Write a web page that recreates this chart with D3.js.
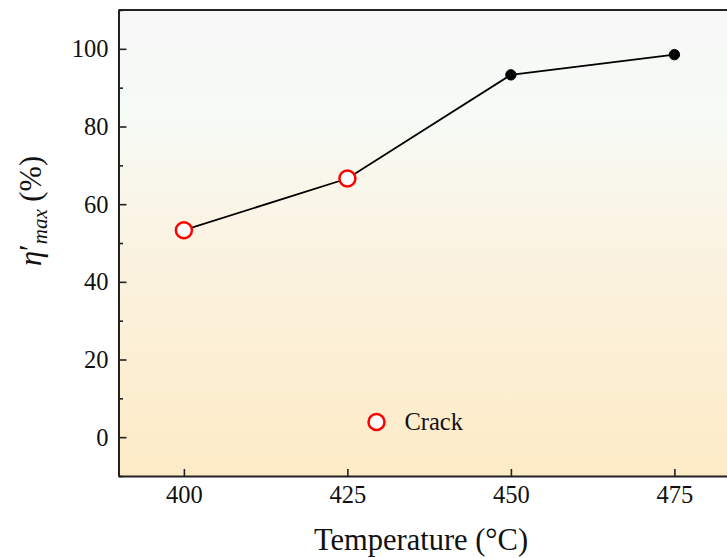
<!DOCTYPE html>
<html>
<head>
<meta charset="utf-8">
<script src="https://cdn.jsdelivr.net/npm/d3@7"></script>
<style>
  html, body { margin: 0; padding: 0; background: #fff; }
  svg { display: block; }
  text { font-family: "Liberation Serif", "Times New Roman", serif; fill: #111; }
</style>
</head>
<body>
<svg id="chart" width="727" height="558"></svg>
<script>
// Annealing temperature (°C)
const temperatures = [400, 425, 450, 475];
// Maximum efficiency η'max (%)
const etaMax = [53.3, 66.6, 93.3, 98.5];
// Whether the sample cracked at that temperature
const cracked = [true, true, false, false];

const yTicks = [0, 20, 40, 60, 80, 100];
const yMinorTicks = [-10, 10, 30, 50, 70, 90, 110];
const xTicks = [400, 425, 450, 475];

const margin = { left: 118.5, top: 10, bottom: 476 };
const svg = d3.select("#chart");

const x = d3.scaleLinear().domain([390, 485]).range([margin.left, margin.left + 95 * 6.54]);
const y = d3.scaleLinear().domain([-10, 110]).range([margin.bottom, margin.top]);

// Background gradient of the plot area
const defs = svg.append("defs");
const grad = defs.append("linearGradient")
  .attr("id", "bg").attr("x1", 0).attr("y1", 0).attr("x2", 0).attr("y2", 1);
[["0%", "#f7f7f7"], ["22%", "#f6fbf6"], ["45%", "#faf4e5"], ["75%", "#fcefd4"], ["100%", "#fdebc6"]]
  .forEach(([o, c]) => grad.append("stop").attr("offset", o).attr("stop-color", c));

svg.append("rect")
  .attr("x", x.range()[0]).attr("y", y.range()[1])
  .attr("width", x.range()[1] - x.range()[0])
  .attr("height", y.range()[0] - y.range()[1])
  .attr("fill", "url(#bg)");

// Axes with inward ticks
const fontSize = 24.5;
const yAxis = d3.axisLeft(y).tickValues(yTicks).tickSizeInner(-8).tickSizeOuter(0).tickPadding(10);
const yMinor = d3.axisLeft(y).tickValues(yMinorTicks).tickSizeInner(-4.5).tickSizeOuter(0).tickFormat("");
const xAxis = d3.axisBottom(x).tickValues(xTicks).tickSizeInner(-7).tickSizeOuter(0).tickPadding(10);

function styleAxis(g) {
  g.select(".domain").attr("stroke", "#222").attr("stroke-width", 2);
  g.selectAll(".tick line").attr("stroke", "#222").attr("stroke-width", 1.6);
  g.selectAll(".tick text").attr("font-size", fontSize)
    .attr("font-family", "Liberation Serif, serif").attr("fill", "#111");
}

svg.append("g").attr("transform", `translate(${margin.left},0)`).call(yMinor).call(styleAxis);
svg.append("g").attr("transform", `translate(${margin.left},0)`).call(yAxis).call(styleAxis);
svg.append("g").attr("transform", `translate(0,${margin.bottom})`).call(xAxis).call(styleAxis);

// Top frame line
svg.append("line")
  .attr("x1", margin.left).attr("x2", x.range()[1])
  .attr("y1", margin.top).attr("y2", margin.top)
  .attr("stroke", "#222").attr("stroke-width", 2);

// Data line
const pts = temperatures.map((t, i) => ({ t, v: etaMax[i], crack: cracked[i] }));
svg.append("path")
  .datum(pts)
  .attr("fill", "none").attr("stroke", "#000").attr("stroke-width", 1.8)
  .attr("d", d3.line().x(d => x(d.t)).y(d => y(d.v)));

// Markers: open red circles for cracked samples, solid black otherwise
svg.selectAll("circle.pt")
  .data(pts)
  .join("circle")
  .attr("class", "pt")
  .attr("cx", d => x(d.t)).attr("cy", d => y(d.v))
  .attr("r", d => d.crack ? 8 : 5.2)
  .attr("fill", d => d.crack ? "#fff" : "#000")
  .attr("stroke", d => d.crack ? "#f00" : "#000")
  .attr("stroke-width", d => d.crack ? 2.5 : 1);

// Legend
const legend = svg.append("g").attr("transform", "translate(376.5,422)");
legend.append("circle").attr("r", 8).attr("fill", "#fff").attr("stroke", "#f00").attr("stroke-width", 2.5);
legend.append("text").attr("x", 28).attr("y", 8).attr("font-size", fontSize).text("Crack");

// Axis titles
svg.append("text")
  .attr("x", 421).attr("y", 550)
  .attr("text-anchor", "middle").attr("font-size", 30.5)
  .text("Temperature (°C)");

const yt = svg.append("text")
  .attr("transform", "translate(41,211) rotate(-90)")
  .attr("text-anchor", "middle").attr("font-size", 30.5);
yt.append("tspan").attr("font-style", "italic").text("η");
yt.append("tspan").text("′");
yt.append("tspan").attr("font-style", "italic").attr("font-size", 21).attr("dy", 6).text("max");
yt.append("tspan").attr("dy", -6).text(" (%)");
</script>
</body>
</html>
